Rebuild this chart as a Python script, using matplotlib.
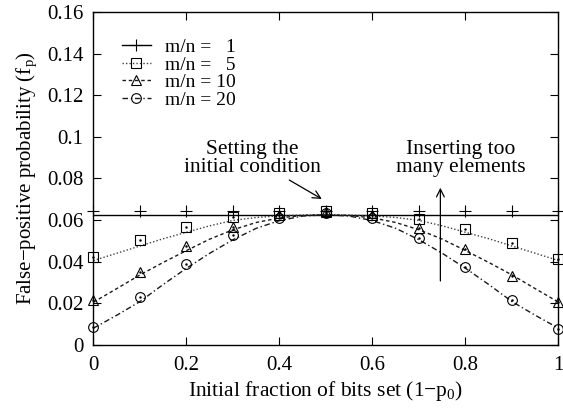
import matplotlib
matplotlib.use("Agg")
import matplotlib.pyplot as plt

plt.rcParams['font.family'] = ['Liberation Serif', 'DejaVu Serif']
plt.rcParams['mathtext.fontset'] = 'custom'
plt.rcParams['mathtext.rm'] = 'Liberation Serif'
plt.rcParams['mathtext.it'] = 'Liberation Serif:italic'
plt.rcParams['font.size'] = 15

# simulation points (markers)
x_pts = [0, 0.1, 0.2, 0.3, 0.4, 0.5, 0.6, 0.7, 0.8, 0.9, 1.0]
sim_1 = [0.0645] * 11
sim_5 = [0.0424, 0.0504, 0.0565, 0.0613, 0.0632, 0.0645, 0.0635, 0.0605, 0.0556, 0.0489, 0.0413]
sim_10 = [0.0216, 0.0352, 0.0476, 0.0568, 0.0625, 0.0640, 0.0625, 0.0560, 0.0460, 0.0331, 0.0208]
sim_20 = [0.0088, 0.0232, 0.0389, 0.0528, 0.0610, 0.0635, 0.0610, 0.0512, 0.0376, 0.0216, 0.0075]

# model curves (lines)
x_model = [0, 0.05, 0.1, 0.15, 0.2, 0.25, 0.3, 0.35, 0.4, 0.45, 0.5,
           0.55, 0.6, 0.65, 0.7, 0.75, 0.8, 0.85, 0.9, 0.95, 1.0]
model_1 = [0.0625] * 21
model_5 = [0.0405, 0.0440, 0.0475, 0.0510, 0.0541, 0.0572, 0.0598, 0.0612, 0.0620, 0.0624, 0.0625,
           0.0624, 0.0620, 0.0612, 0.0598, 0.0572, 0.0541, 0.0510, 0.0475, 0.0440, 0.0405]
model_10 = [0.0205, 0.0270, 0.0336, 0.0396, 0.0453, 0.0508, 0.0553, 0.0588, 0.0610, 0.0622, 0.0625,
            0.0622, 0.0610, 0.0588, 0.0553, 0.0508, 0.0453, 0.0396, 0.0336, 0.0270, 0.0205]
model_20 = [0.0080, 0.0142, 0.0208, 0.0290, 0.0368, 0.0440, 0.0505, 0.0560, 0.0597, 0.0619, 0.0625,
            0.0619, 0.0597, 0.0560, 0.0505, 0.0440, 0.0368, 0.0290, 0.0208, 0.0142, 0.0080]

labels = ['m/n =   1', 'm/n =   5', 'm/n = 10', 'm/n = 20']
xticks = [0, 0.2, 0.4, 0.6, 0.8, 1]
xticklabels = ['0', '0.2', '0.4', '0.6', '0.8', '1']
yticks = [0, 0.02, 0.04, 0.06, 0.08, 0.1, 0.12, 0.14, 0.16]
yticklabels = ['0', '0.02', '0.04', '0.06', '0.08', '0.1', '0.12', '0.14', '0.16']

fig = plt.figure(figsize=(5.63, 4.11), dpi=100)
ax = fig.add_axes([0.166, 0.161, 0.826, 0.81])

series = [
    (model_1, sim_1, '-', '+', (0.0, 0.0, 0.0), 1.0),
    (model_5, sim_5, (0, (1, 1.5)), 's', (0.25, 0.25, 0.25), 1.0),
    (model_10, sim_10, (0, (2.5, 2)), '^', (0.1, 0.1, 0.1), 1.0),
    (model_20, sim_20, (0, (4, 2, 1, 2)), 'o', (0.1, 0.1, 0.1), 1.0),
]
for (model, sim, ls, mk, col, lw), lab in zip(series, labels):
    ax.plot(x_model, model, linestyle=ls, color=col, lw=lw, zorder=2)
    ax.plot(x_pts, sim, linestyle='none', marker=mk, markersize=7 if mk != '+' else 8,
            markerfacecolor='none', markeredgecolor='black', markeredgewidth=0.8,
            clip_on=False, zorder=3)
    if mk != '+':
        ax.plot(x_pts, sim, linestyle='none', marker='.', markersize=1.5,
                color='black', clip_on=False, zorder=3)
    # legend proxy
    ax.plot([], [], linestyle=ls, color=col, lw=lw, marker=mk,
            markersize=7 if mk != '+' else 8, markerfacecolor='none',
            markeredgecolor='black', markeredgewidth=0.8, label=lab)

ax.legend(loc='upper left', bbox_to_anchor=(0.015, 0.985), frameon=False,
          handlelength=1.5, handletextpad=0.7, labelspacing=0.0, borderpad=0.6,
          fontsize=14)

ax.annotate('Setting the\ninitial condition', xy=(0.491, 0.0701), xytext=(0.342, 0.0895),
            ha='center', va='center', fontsize=15.5, linespacing=0.95,
            arrowprops=dict(arrowstyle='->', color='black', lw=0.9,
                            shrinkA=0, shrinkB=0, mutation_scale=14),
            annotation_clip=False)
ax.annotate('', xy=(0.746, 0.0755), xytext=(0.746, 0.0307),
            arrowprops=dict(arrowstyle='->', color='black', lw=0.9,
                            shrinkA=0, shrinkB=0, mutation_scale=14))
ax.text(0.789, 0.0895, 'Inserting too\nmany elements', ha='center', va='center',
        fontsize=15.5, linespacing=0.95)

ax.set_xlim(0, 1)
ax.set_ylim(0, 0.16)
ax.set_xticks(xticks)
ax.set_xticklabels(xticklabels)
ax.set_yticks(yticks)
ax.set_yticklabels(yticklabels)
ax.tick_params(direction='in', length=6, width=0.8, top=True, right=True,
               labelsize=15, pad=7)
ax.tick_params(axis='x', pad=8)
for s in ax.spines.values():
    s.set_linewidth(1.0)

ax.set_xlabel('Initial fraction of bits set (1\u2212p$_\\mathregular{0}$)', fontsize=15.5, labelpad=3)
ax.set_ylabel('False\u2212positive probability (f$_\\mathregular{p}$)', fontsize=15, labelpad=6)

fig.savefig('out.png', dpi=100)
